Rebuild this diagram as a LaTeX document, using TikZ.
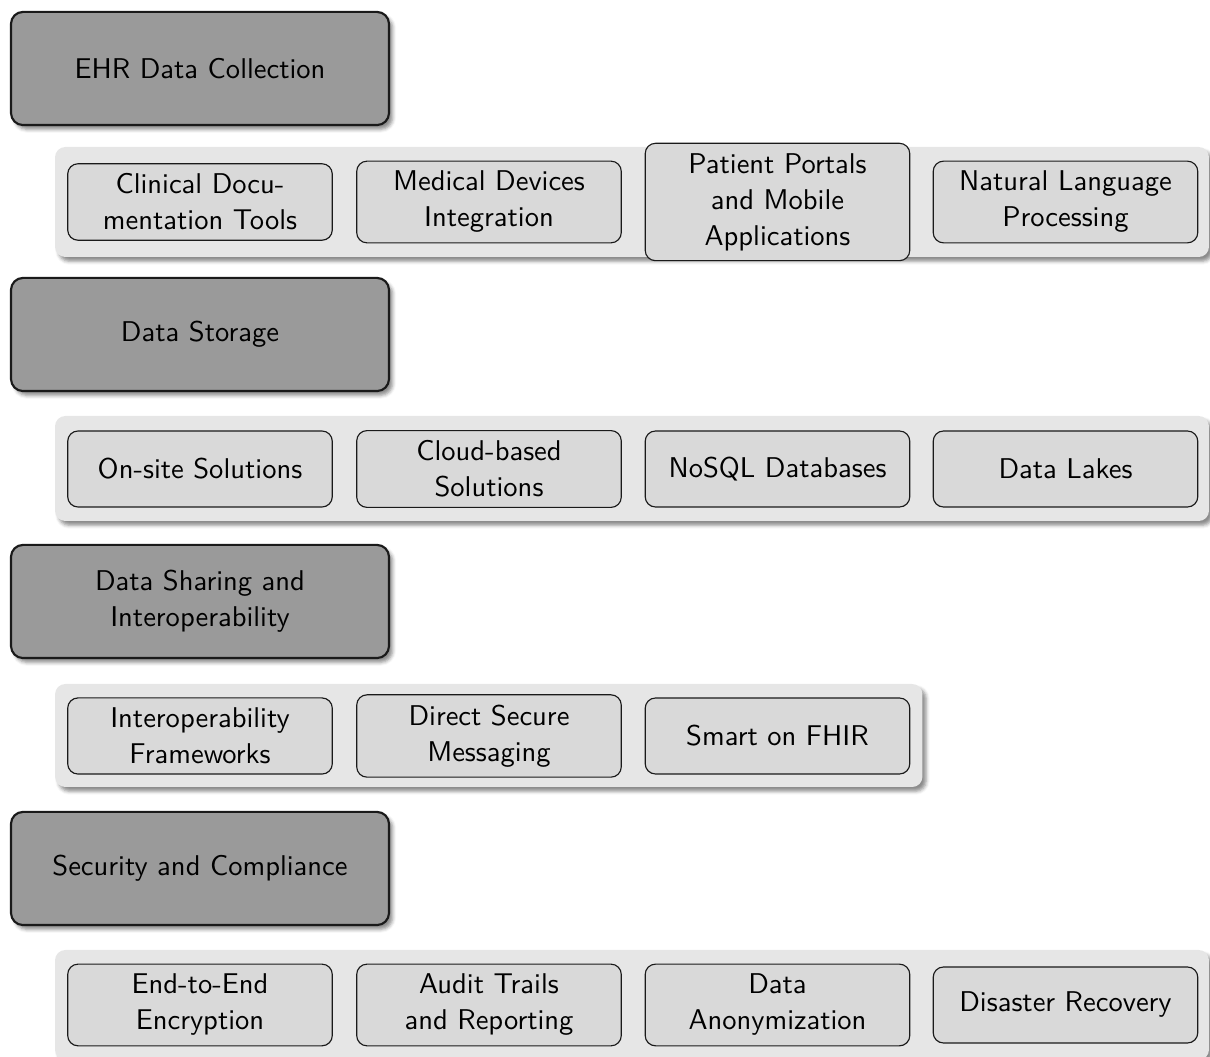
\documentclass[tikz,border=0pt]{standalone}
\usepackage{fontspec}
\usetikzlibrary{shadows.blur}

\definecolor{headfill}{HTML}{9A9A9A}
\definecolor{panelfill}{HTML}{E6E6E6}
\definecolor{itemfill}{HTML}{D9D9D9}
\definecolor{edgecol}{HTML}{1A1A1A}

\tikzset{
  boxfont/.style={font=\sffamily\fontsize{10}{12.6}\selectfont},
  softshadow/.style={blur shadow={shadow xshift=1.3pt, shadow yshift=-1.5pt,
      shadow blur radius=1.2pt, shadow opacity=45}},
  head/.style={boxfont, draw=edgecol, line width=0.75pt, fill=headfill,
      rounded corners=4.2pt, minimum width=132.3pt, minimum height=39.6pt,
      align=center, softshadow},
  panel/.style={fill=panelfill, rounded corners=3.6pt, inner sep=0pt, softshadow},
  item/.style={boxfont, draw=edgecol, line width=0.4pt, fill=itemfill,
      rounded corners=3.6pt, minimum width=92.6pt, minimum height=26.6pt,
      inner xsep=3pt, inner ysep=3.5pt, align=center},
}

\begin{document}
\begin{tikzpicture}[x=0.35pt, y=-0.35pt]
  \useasboundingbox (0,0) rectangle (1210,1057);

  % stage 1: collection
  \node[head] (h1) at (200,68.5) {EHR Data Collection};
  \node[panel, minimum width=403.9pt, minimum height=38.5pt] (p1) at (632,202) {};
  \node[item] (a1) at (200,202)    {Clinical Docu-\\mentation Tools};
  \node[item] (a2) at (489,202)    {Medical Devices\\Integration};
  \node[item] (a3) at (777.5,202)  {Patient Portals\\and Mobile\\Applications};
  \node[item] (a4) at (1065.5,202) {Natural Language\\Processing};

  % stage 2: storage
  \node[head] (h2) at (200,334.5) {Data Storage};
  \node[panel, minimum width=403.9pt, minimum height=36.75pt] (p2) at (632,468.5) {};
  \node[item] (b1) at (200,469)    {On-site Solutions};
  \node[item] (b2) at (489,469)    {Cloud-based\\Solutions};
  \node[item] (b3) at (777.5,469)  {NoSQL Databases};
  \node[item] (b4) at (1065.5,469) {Data Lakes};

  % stage 3: sharing
  \node[head] (h3) at (200,601.5) {Data Sharing and\\Interoperability};
  \node[panel, minimum width=303.6pt, minimum height=36.05pt] (p3) at (488.75,735.5) {};
  \node[item] (c1) at (200,736)    {Interoperability\\Frameworks};
  \node[item] (c2) at (489,736)    {Direct Secure\\Messaging};
  \node[item] (c3) at (777.5,736)  {Smart on FHIR};

  % stage 4: security
  \node[head] (h4) at (200,868.5) {Security and Compliance};
  \node[panel, minimum width=403.9pt, minimum height=38.5pt] (p4) at (632,1005) {};
  \node[item] (d1) at (200,1005)    {End-to-End\\Encryption};
  \node[item] (d2) at (489,1005)    {Audit Trails\\and Reporting};
  \node[item] (d3) at (777.5,1005)  {Data\\Anonymization};
  \node[item] (d4) at (1065.5,1005) {Disaster Recovery};
\end{tikzpicture}
\end{document}
